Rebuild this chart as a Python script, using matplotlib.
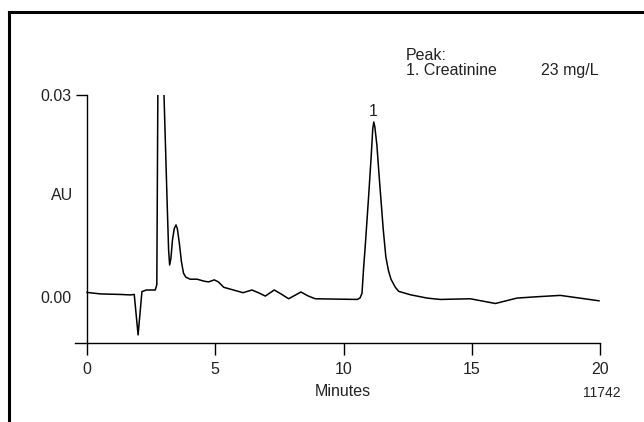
import matplotlib
matplotlib.use("Agg")
import matplotlib.pyplot as plt
from matplotlib.lines import Line2D

# ---- data ----
time_min = [0.00, 0.52, 1.30, 1.69, 1.84, 1.99, 2.14, 2.31, 2.66, 2.72, 2.76, 2.88,
            3.00, 3.12, 3.18, 3.22, 3.27, 3.33, 3.40, 3.47, 3.52, 3.60, 3.68, 3.76,
            3.85, 4.02, 4.29, 4.57, 4.74, 4.96, 5.12, 5.33, 6.08, 6.43, 6.68, 6.95,
            7.30, 7.57, 7.86, 8.34, 8.63, 8.90, 10.53, 10.64, 10.72, 10.78, 10.85,
            10.97, 11.08, 11.14, 11.18, 11.22, 11.30, 11.40, 11.55, 11.65, 11.75,
            11.85, 12.02, 12.15, 12.60, 13.26, 13.77, 14.94, 15.92, 16.76, 17.54,
            18.45, 19.96]
absorbance = [0.00074, 0.00052, 0.00044, 0.00037, 0.00044, -0.00556, 0.00086, 0.0011,
              0.0011, 0.0019, 0.030, 0.070, 0.030, 0.0144, 0.0070, 0.0048, 0.0058,
              0.0085, 0.0102, 0.01074, 0.0102, 0.0080, 0.0053, 0.0036, 0.0030, 0.0027,
              0.0027, 0.0024, 0.0023, 0.0026, 0.0023, 0.0015, 0.0007, 0.0011, 0.0007,
              0.0002, 0.0011, 0.0005, -0.0002, 0.0008, 0.0002, -0.0002, -0.0003,
              -0.0001, 0.0006, 0.0042, 0.0078, 0.0145, 0.0210, 0.0250, 0.0260, 0.0253,
              0.0226, 0.0174, 0.0100, 0.0060, 0.0040, 0.0027, 0.0015, 0.0009, 0.0004,
              -0.0001, -0.0003, -0.0002, -0.0009, -0.0001, 0.0001, 0.0003, -0.0005]
x_ticks = [0, 5, 10, 15, 20]
x_tick_labels = ["0", "5", "10", "15", "20"]
y_ticks = [0.00, 0.03]
y_tick_labels = ["0.00", "0.03"]
peak_number = "1"
peak_time = 11.17
legend_title = "Peak:"
legend_name = "1. Creatinine"
legend_conc = "23 mg/L"

W, H = 644, 422
plt.rcParams['font.family'] = ['Liberation Sans', 'DejaVu Sans']
FS = 11.5
TC = '#222222'

fig = plt.figure(figsize=(W / 100, H / 100), dpi=100)
fig.patch.set_facecolor('white')

def fx(px):
    return px / W

def fy(py):
    return 1 - py / H

# axes: x data -0.47..20 spans pixels 75..600 ; y -0.0068..0.03 spans 343.3..95
x_left_px, x_right_px = 75.0, 600.0
y_top_px, y_bot_px = 95.0, 343.3
ax = fig.add_axes([fx(x_left_px), fy(y_bot_px),
                   (x_right_px - x_left_px) / W, (y_bot_px - y_top_px) / H])
ax.set_xlim(-0.47, 20)
ax.set_ylim(-0.0068, 0.03)
ax.patch.set_alpha(0)

ax.plot(time_min, absorbance, color='black', lw=1.1, solid_joinstyle='round')

for s in ['top', 'right']:
    ax.spines[s].set_visible(False)
ax.spines['left'].set_position(('data', 0))
ax.spines['left'].set_linewidth(1.0)
ax.spines['bottom'].set_linewidth(1.0)

ax.set_xticks(x_ticks)
ax.set_xticklabels(x_tick_labels)
ax.set_yticks(y_ticks)
ax.set_yticklabels(y_tick_labels)
ax.tick_params(axis='x', direction='out', length=8.5, width=1.0, pad=5,
               labelsize=FS, colors='black', labelcolor=TC)
ax.tick_params(axis='y', direction='out', length=8, width=1.0, pad=3,
               labelsize=FS, colors='black', labelcolor=TC)
ax.yaxis.get_major_ticks()[0].tick1line.set_visible(False)

ax.text(peak_time - 0.03, 0.0275, peak_number, ha='center', va='center',
        fontsize=FS, color=TC)

fig.text(fx(61.7), fy(196), "AU", ha='center', va='center', fontsize=FS, color=TC)
fig.text(fx(343), fy(391), "Minutes", ha='center', va='center', fontsize=FS, color=TC)
fig.text(fx(621), fy(393), "11742", ha='right', va='center', fontsize=FS - 1.5, color=TC)
fig.text(fx(406), fy(55), legend_title, ha='left', va='center', fontsize=FS, color=TC)
fig.text(fx(406), fy(70.5), legend_name, ha='left', va='center', fontsize=FS, color=TC)
fig.text(fx(599), fy(70.5), legend_conc, ha='right', va='center', fontsize=FS, color=TC)

# partial frame (top and left edges)
fig.add_artist(Line2D([fx(9), fx(9)], [fy(12), fy(H + 2)], color='black', lw=2.2,
                      solid_capstyle='projecting'))
fig.add_artist(Line2D([fx(9), fx(W + 2)], [fy(12), fy(12)], color='black', lw=2.2,
                      solid_capstyle='projecting'))

fig.savefig("out.png", dpi=100, facecolor='white')
